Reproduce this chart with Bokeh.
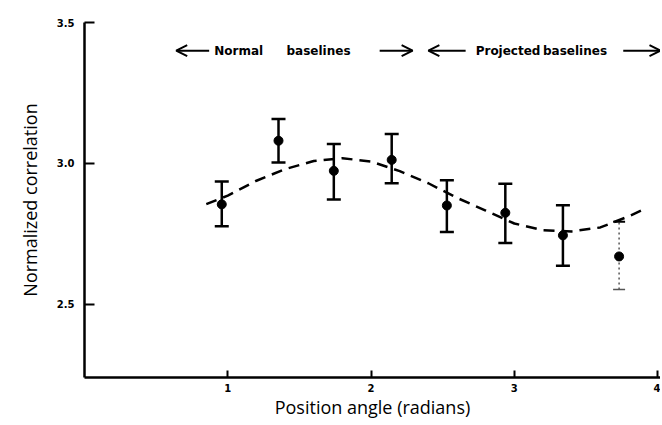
from bokeh.plotting import figure
from bokeh.models import Range1d, FixedTicker, Whisker, TeeHead, Arrow, OpenHead, Label, ColumnDataSource
from bokeh.embed import file_html
from bokeh.resources import INLINE

# data
angle = [0.958, 1.354, 1.740, 2.144, 2.529, 2.937, 3.339, 3.731]
corr = [2.854, 3.080, 2.973, 3.012, 2.850, 2.824, 2.744, 2.669]
upper = [2.935, 3.157, 3.068, 3.104, 2.940, 2.927, 2.851, 2.792]
lower = [2.776, 3.003, 2.871, 2.929, 2.756, 2.717, 2.636, 2.552]

fit_x = [0.85, 1.0, 1.2, 1.4, 1.6, 1.8, 2.0, 2.2, 2.4, 2.6, 2.8, 3.0, 3.2, 3.4, 3.6, 3.8, 3.92]
fit_y = [2.855, 2.885, 2.938, 2.979, 3.008, 3.018, 3.006, 2.972, 2.929, 2.877, 2.832,
         2.786, 2.762, 2.758, 2.772, 2.812, 2.840]

x_ticks = [1, 2, 3, 4]
y_ticks = [2.5, 3.0, 3.5]
y_tick_labels = {2.5: "2.5", 3.0: "3.0", 3.5: "3.5"}

p = figure(width=660, height=424, output_backend="svg", toolbar_location=None,
           x_range=Range1d(0, 4.02), y_range=Range1d(2.239, 3.5),
           min_border_left=84, min_border_right=0, min_border_top=22, min_border_bottom=47)
p.outline_line_color = None
p.xgrid.visible = False
p.ygrid.visible = False

for ax in (p.xaxis[0], p.yaxis[0]):
    ax.axis_line_width = 2.5
    ax.axis_line_color = "black"
    ax.major_tick_line_color = "black"
    ax.major_tick_line_width = 2
    ax.major_tick_out = 0
    ax.minor_tick_line_color = None
    ax.major_label_text_font = "DejaVu Sans"
    ax.major_label_text_font_style = "bold"
    ax.major_label_text_font_size = "10px"
    ax.major_label_text_color = "black"
    ax.axis_label_text_font = "Open Sans"
    ax.axis_label_text_font_style = "normal"
    ax.axis_label_text_font_size = "18px"
    ax.axis_label_text_color = "black"

p.xaxis.ticker = FixedTicker(ticks=x_ticks)
p.xaxis.major_tick_in = 7
p.xaxis.major_label_standoff = 6
p.xaxis.axis_label = "Position angle (radians)"
p.xaxis.axis_label_standoff = 0

p.yaxis.ticker = FixedTicker(ticks=y_ticks)
p.yaxis.major_label_overrides = y_tick_labels
p.yaxis.major_tick_in = 10
p.yaxis.major_label_standoff = 10
p.yaxis.axis_label = "Normalized correlation"
p.yaxis.axis_label_standoff = 12

# fitted dashed curve
p.line(fit_x, fit_y, line_color="black", line_width=2.5, line_dash="11 7")

# error bars
src = ColumnDataSource(dict(x=angle[:-1], y=corr[:-1], up=upper[:-1], lo=lower[:-1]))
src_last = ColumnDataSource(dict(x=angle[-1:], y=corr[-1:], up=upper[-1:], lo=lower[-1:]))
p.add_layout(Whisker(source=src, base="x", upper="up", lower="lo", line_width=2.5,
                     upper_head=TeeHead(size=14, line_width=2.5),
                     lower_head=TeeHead(size=14, line_width=2.5)))
p.add_layout(Whisker(source=src_last, base="x", upper="up", lower="lo", line_width=1.5,
                     line_color="#555555", line_dash="2 3",
                     upper_head=TeeHead(size=12, line_width=2),
                     lower_head=TeeHead(size=12, line_width=1.5, line_color="#555555")))
p.scatter(angle, corr, size=9, color="black")

# header annotations
ya = 3.40
def arrow(x0, x1):
    p.add_layout(Arrow(end=OpenHead(size=11, line_width=2), x_start=x0, y_start=ya,
                       x_end=x1, y_end=ya, line_width=2))

arrow(0.87, 0.64)
arrow(2.06, 2.29)
arrow(2.66, 2.40)
arrow(3.76, 4.02)
for txt, xx in [("Normal", 0.905), ("baselines", 1.41), ("Projected", 2.73), ("baselines", 3.20)]:
    p.add_layout(Label(x=xx, y=ya, text=txt, text_font="DejaVu Sans", text_font_style="bold",
                       text_font_size="12px", text_color="black",
                       text_baseline="middle", text_align="left"))

open("out.html", "w").write(file_html(p, INLINE))
